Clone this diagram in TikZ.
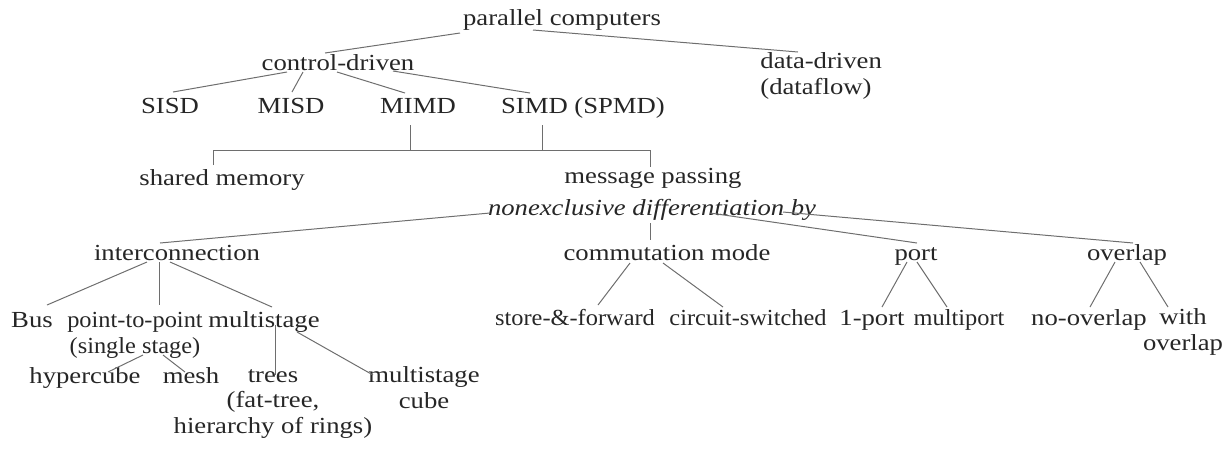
\documentclass[tikz,border=0pt]{standalone}
\usepackage{fontspec}
\setmainfont{Liberation Serif}[FakeStretch=1.16]
\newfontfamily\narrowserif{Liberation Serif}[FakeStretch=1.06]
\usepackage{tikz}
\usetikzlibrary{calc,positioning}

\definecolor{txtgray}{HTML}{262626}
\definecolor{linegray}{HTML}{6E6E6E}

\tikzset{
    lbl/.style={inner sep=0pt, anchor=base, text=txtgray, font=\fontsize{11.5}{12.6}\selectfont, align=center},
    tight/.style={lbl, font=\fontsize{11.5}{12.6}\selectfont\narrowserif},
    link/.style={draw=linegray, line width=0.5pt}
}

\begin{document}
\begin{tikzpicture}[x=0.5pt, y=-0.5pt]
    \useasboundingbox (0,0) rectangle (1225,452);

    % top levels (multi-line nodes sit on the baseline of their last line)
    \node[lbl] (pc) at (562,25) {parallel computers};
    \node[lbl] (cd) at (338,70) {control-driven};
    \node[lbl, anchor=base west, align=left] (dd) at (760,94) {data-driven\\(dataflow)};
    \node[lbl] (sisd) at (170,113) {SISD};
    \node[lbl] (misd) at (291,113) {MISD};
    \node[lbl] (mimd) at (418,113) {MIMD};
    \node[lbl] (simd) at (583,113) {SIMD (SPMD)};
    \node[lbl] (shm) at (222,185) {shared memory};
    \node[lbl] (mp) at (653,183) {message passing};
    \node[lbl, font=\fontsize{11.5}{12.6}\selectfont\itshape] (nd) at (652,215) {nonexclusive differentiation by};

    % criteria
    \node[lbl] (ic) at (177,260) {interconnection};
    \node[lbl] (cm) at (667,260) {commutation mode};
    \node[lbl] (port) at (916,260) {port};
    \node[lbl] (ov) at (1127,260) {overlap};

    % leaves
    \node[lbl] (bus) at (32,327) {Bus};
    \node[tight] (p2p) at (135,353) {point-to-point\\(single stage)};
    \node[lbl] (ms) at (264,327) {multistage};
    \node[lbl] (hc) at (85,383) {hypercube};
    \node[lbl] (mesh) at (191,383) {mesh};
    \node[lbl] (trees) at (273,433) {trees\\(fat-tree,\\hierarchy of rings)};
    \node[lbl] (msc) at (424,408) {multistage\\cube};
    \node[tight] (sf) at (575,325) {store-\&-forward};
    \node[tight] (cs) at (748,325) {circuit-switched};
    \node[lbl] (op) at (872,325) {1-port};
    \node[tight] (mport) at (959,325) {multiport};
    \node[lbl] (no) at (1089,325) {no-overlap};
    \node[lbl] (wo) at (1183,350) {with\\overlap};

    % connectors
    \draw[link] ($(cd.base)+(-13,-17)$) -- ($(pc.base)+(-102,8)$);
    \draw[link] ($(pc.base)+(-29,5)$) -- ($(dd.base west)+(38,-42)$);
    \draw[link] ($(cd.base)+(-51,2)$) -- ($(sisd.base)+(3,-21)$);
    \draw[link] ($(cd.base)+(-35,2)$) -- ($(misd.base)+(1,-21)$);
    \draw[link] ($(cd.base)+(-1,2)$) -- ($(mimd.base)+(-13,-20)$);
    \draw[link] ($(cd.base)+(55,1)$) -- ($(simd.base)+(-53,-20)$);

    \draw[link] ($(shm.base)+(-9,-20)$) |- ($(mp.base)+(-3,-33)$) -- ($(mp.base)+(-3,-16)$);
    \draw[link] ($(mimd.base)+(-8,12)$) -- ++(0,25);
    \draw[link] ($(simd.base)+(-41,12)$) -- ++(0,25);

    \draw[link] ($(nd.base)+(-162,-2)$) -- ($(ic.base)+(-17,-17)$);
    \draw[link] ($(nd.base)+(-2,8)$) -- ($(cm.base)+(-17,-20)$);
    \draw[link] ($(nd.base)+(58,-2)$) -- ($(port.base)+(1,-17)$);
    \draw[link] ($(nd.base)+(131,-3)$) -- ($(ov.base)+(6,-17)$);

    \draw[link] ($(ic.base)+(-30,2)$) -- ($(bus.base)+(15,-22)$);
    \draw[link] ($(ic.base)+(-18,2)$) -- ($(p2p.base)+(24,-48)$);
    \draw[link] ($(ic.base)+(-7,2)$) -- ($(ms.base)+(8,-20)$);
    \draw[link] ($(p2p.base)+(8,2)$) -- ($(hc.base)+(23,-11)$);
    \draw[link] ($(p2p.base)+(28,2)$) -- ($(mesh.base)+(-6,-11)$);
    \draw[link] ($(ms.base)+(11,-2)$) -- ($(trees.base)+(2,-58)$);
    \draw[link] ($(ms.base)+(33,5)$) -- ($(msc.base)+(-51,-33)$);

    \draw[link] ($(cm.base)+(-37,3)$) -- ($(sf.base)+(23,-20)$);
    \draw[link] ($(cm.base)+(-4,3)$) -- ($(cs.base)+(-25,-18)$);
    \draw[link] ($(port.base)+(-9,2)$) -- ($(op.base)+(10,-18)$);
    \draw[link] ($(port.base)+(1,2)$) -- ($(mport.base)+(-12,-18)$);
    \draw[link] ($(ov.base)+(-12,2)$) -- ($(no.base)+(1,-18)$);
    \draw[link] ($(ov.base)+(13,2)$) -- ($(wo.base)+(-15,-43)$);
\end{tikzpicture}
\end{document}
